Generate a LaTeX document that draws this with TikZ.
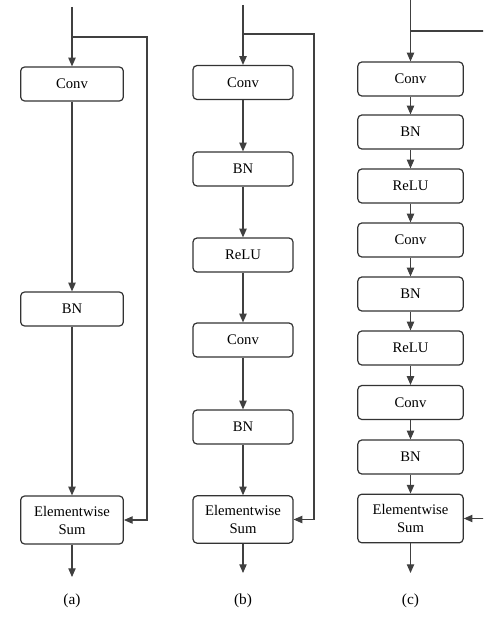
\documentclass[tikz,border=0pt]{standalone}
\usepackage{fontspec}
\setmainfont{Liberation Serif}
\usetikzlibrary{arrows.meta}

\begin{document}
\begin{tikzpicture}[x=0.75pt,y=-0.75pt,
    box/.style={draw=black!80,line width=0.9pt,rounded corners=3pt,minimum height=25.5pt,
      inner sep=0pt,align=center,font=\fontsize{11}{13.5}\selectfont},
    arr/.style={draw=black!75,line width=0.8pt,-{Triangle[length=6.5pt,width=5.5pt]}},
    ln/.style={draw=black!75,line width=0.8pt}]
  \useasboundingbox (0,0) rectangle (483,620);
  \clip (0,0) rectangle (483,620);
  % (a)
  \node[box,minimum width=77pt] (convA) at (72,84) {Conv};
  \node[box,minimum width=77pt] (bnA) at (72,309) {BN};
  \node[box,minimum width=77pt,minimum height=36pt] (sumA) at (72,520) {Elementwise\\Sum};
  \coordinate (inA) at (72,7);
  \coordinate (splitA) at (72,37);
  \coordinate (skipA) at (147,37);
  \coordinate (outA) at (72,577);
  \draw[arr] (inA) -- (convA);
  \draw[arr] (convA) -- (bnA);
  \draw[arr] (bnA) -- (sumA);
  \draw[arr] (splitA) -- (skipA) |- (sumA.east);
  \draw[arr] (sumA) -- (outA);
  \node[font=\fontsize{11.5}{14}\selectfont] (labA) at (72,601) {(a)};
  % (b)
  \foreach \n/\t/\y in {convB1/Conv/82.5, bnB1/BN/169, reluB/ReLU/255, convB2/Conv/340, bnB2/BN/427}
    \node[box,minimum width=75pt] (\n) at (243,\y) {\t};
  \node[box,minimum width=75pt,minimum height=35.5pt] (sumB) at (243,519.5) {Elementwise\\Sum};
  \coordinate (inB) at (243,5);
  \coordinate (splitB) at (243,34);
  \coordinate (skipB) at (314,34);
  \coordinate (outB) at (243,573);
  \draw[arr] (inB) -- (convB1);
  \foreach \a/\b in {convB1/bnB1, bnB1/reluB, reluB/convB2, convB2/bnB2, bnB2/sumB}
    \draw[arr] (\a) -- (\b);
  \draw[arr] (splitB) -- (skipB) |- (sumB.east);
  \draw[arr] (sumB) -- (outB);
  \node[font=\fontsize{11.5}{14}\selectfont] (labB) at (243,601) {(b)};
  % (c)
  \foreach \n/\t/\y in {convC1/Conv/79, bnC1/BN/132, reluC1/ReLU/186, convC2/Conv/240, bnC2/BN/294,
      reluC2/ReLU/348, convC3/Conv/402.5, bnC3/BN/457}
    \node[box,minimum width=79pt] (\n) at (410.5,\y) {\t};
  \node[box,minimum width=79pt,minimum height=36.5pt] (sumC) at (410.5,518.5) {Elementwise\\Sum};
  \coordinate (inC) at (410.5,0);
  \coordinate (splitC) at (410.5,31);
  \coordinate (skipC) at (500,31);
  \coordinate (outC) at (410.5,573);
  \draw[arr] (inC) -- (convC1);
  \foreach \a/\b in {convC1/bnC1, bnC1/reluC1, reluC1/convC2, convC2/bnC2, bnC2/reluC2,
      reluC2/convC3, convC3/bnC3, bnC3/sumC}
    \draw[arr] (\a) -- (\b);
  \draw[arr] (splitC) -- (skipC) |- (sumC.east);
  \draw[arr] (sumC) -- (outC);
  \node[font=\fontsize{11.5}{14}\selectfont] (labC) at (410.5,601) {(c)};
\end{tikzpicture}
\end{document}
